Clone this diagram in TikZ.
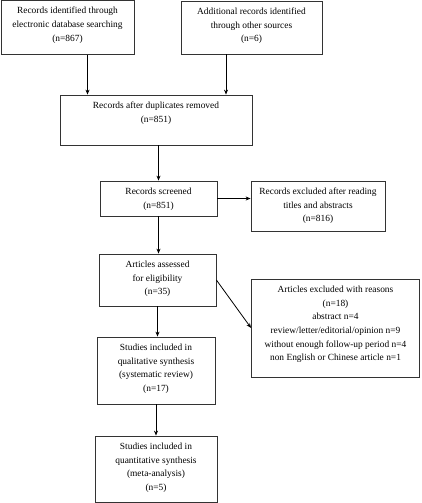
\documentclass[tikz,border=0pt]{standalone}
\usepackage{fontspec}
\setmainfont{Liberation Serif}
\usetikzlibrary{arrows.meta}
\tikzset{
  box/.style={draw=black!80, line width=0.8pt, inner sep=0pt},
  boxtext/.style={anchor=north, align=center, inner sep=0pt, yshift=-7pt, font=\fontsize{9.4}{13.7}\selectfont},
  flow/.style={-{Stealth[length=5pt,width=4pt]}, line width=0.8pt}
}
\begin{document}
\begin{tikzpicture}[x=1pt,y=-1pt]
\useasboundingbox (0,0) rectangle (421,503);
% boxes
\node[box, minimum width=133pt, minimum height=54pt] (ident) at (67.5,27.5) {};
\node[box, minimum width=141pt, minimum height=53pt] (other) at (251.5,27.5) {};
\node[box, minimum width=192pt, minimum height=50pt] (dupl) at (156,120) {};
\node[box, minimum width=117pt, minimum height=35pt] (screen) at (158.5,198.5) {};
\node[box, minimum width=134pt, minimum height=50pt] (excl) at (318,206) {};
\node[box, minimum width=117pt, minimum height=52pt] (assess) at (157.5,280) {};
\node[box, minimum width=168pt, minimum height=98pt] (reason) at (335.5,328) {};
\node[box, minimum width=118pt, minimum height=67pt] (qual) at (156,370.5) {};
\node[box, minimum width=122pt, minimum height=66pt] (quant) at (156,469) {};

% texts
\node[boxtext] (identtxt) at (ident.north) {Records identified through\\electronic database searching\\(n=867)};
\node[boxtext] (othertxt) at (other.north) {Additional records identified\\through other sources\\(n=6)};
\node[boxtext] (dupltxt) at (dupl.north) {Records after duplicates removed\\(n=851)};
\node[boxtext] (screentxt) at (screen.north) {Records screened\\(n=851)};
\node[boxtext] (excltxt) at (excl.north) {Records excluded after reading\\titles and abstracts\\(n=816)};
\node[boxtext] (assesstxt) at (assess.north) {Articles assessed\\for eligibility\\(n=35)};
\node[boxtext] (reasontxt) at (reason.north) {Articles excluded with reasons\\(n=18)\\abstract n=4\\review/letter/editorial/opinion n=9\\without enough follow-up period n=4\\non English or Chinese article n=1};
\node[boxtext] (qualtxt) at (qual.north) {Studies included in\\qualitative synthesis\\(systematic review)\\(n=17)};
\node[boxtext] (quanttxt) at (quant.north) {Studies included in\\quantitative synthesis\\(meta-analysis)\\(n=5)};

% arrows
\draw[flow] ([xshift=20pt]ident.south) -- ([xshift=20pt]ident.south |- dupl.north);
\draw[flow] ([xshift=-25.5pt]other.south) -- ([xshift=-25.5pt]other.south |- dupl.north);
\draw[flow] (screen.north |- dupl.south) -- (screen.north);
\draw[flow] (screen.east) -- (screen.east -| excl.west);
\draw[flow] (screen.south) -- (screen.south |- assess.north);
\draw[flow] (assess.east) -- (reason.west);
\draw[flow] (assess.south) -- (assess.south |- qual.north);
\draw[flow] (qual.south) -- (qual.south |- quant.north);
\end{tikzpicture}
\end{document}
